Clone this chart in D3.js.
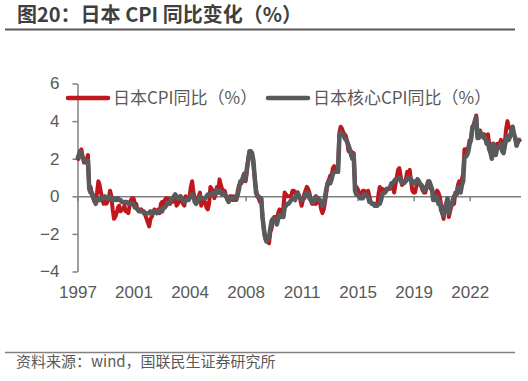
<!DOCTYPE html>
<html>
<head>
<meta charset="utf-8">
<script src="https://cdn.jsdelivr.net/npm/d3@7"></script>
<style>
  body { margin: 0; background: #fff; }
  svg { display: block; font-family: "Open Sans", "Noto Sans CJK SC", sans-serif; }
</style>
</head>
<body>
<div id="chart"></div>
<script>
// Japan CPI YoY, monthly from 1997-07 to 2025-11
const seriesNames = ['日本CPI同比（%）', '日本核心CPI同比（%）'];
const tickLabels = ['1997', '2001', '2004', '2008', '2011', '2015', '2019', '2022'];
const yTicks = [-4, -2, 0, 2, 4, 6];

const cpi = [
    1.9, 2.1, 2.4, 2.5, 2.1, 1.8,
    1.8, 1.9, 2.2, 0.4, 0.5, 0.1, -0.1, -0.3, -0.2, 0.2, 0.8, 0.6,
    0.2, -0.1, -0.4, -0.1, -0.4, -0.3, -0.1, 0.3, 0.0, -0.7, -1.2, -1.1,
    -0.9, -0.6, -0.5, -0.8, -0.7, -0.7, -0.5, -0.8, -0.8, -0.9, -0.5, -0.2,
    -0.1, -0.1, -0.4, -0.4, -0.7, -0.8, -0.8, -0.7, -0.8, -0.8, -1.0, -1.2,
    -1.4, -1.6, -1.2, -1.1, -0.9, -0.7, -0.8, -0.9, -0.7, -0.9, -0.4, -0.3,
    -0.4, -0.2, -0.1, -0.1, -0.2, -0.4, -0.2, -0.3, -0.2, 0.0, -0.5, -0.4,
    -0.3, 0.0, -0.1, -0.4, -0.5, 0.0, -0.1, -0.2, 0.0, 0.5, 0.8, 0.2,
    -0.1, -0.3, -0.2, 0.0, 0.2, -0.5, -0.3, -0.3, -0.3, -0.6, -0.7, -0.4,
    0.5, 0.4, 0.3, -0.1, 0.1, 0.5, 0.3, 0.9, 0.6, 0.4, 0.3, 0.3,
    0.0, -0.2, -0.1, 0.0, 0.0, -0.2, 0.0, -0.2, -0.2, 0.3, 0.6, 0.7,
    0.7, 1.0, 1.2, 0.8, 1.3, 2.0, 2.3, 2.1, 2.1, 1.7, 1.0, 0.4,
    0.0, -0.1, -0.3, -0.1, -1.1, -1.8, -2.2, -2.2, -2.2, -2.5, -1.9, -1.7,
    -1.3, -1.1, -1.1, -1.2, -0.9, -0.7, -0.9, -0.9, -0.6, 0.2, 0.1, 0.0,
    0.0, 0.0, 0.0, 0.3, 0.3, 0.2, 0.2, 0.2, 0.0, -0.2, -0.5, -0.2,
    0.1, 0.3, 0.5, 0.4, 0.2, -0.2, -0.4, -0.4, -0.3, -0.4, -0.2, -0.1,
    -0.3, -0.7, -0.9, -0.7, -0.3, 0.2, 0.7, 0.9, 1.1, 1.1, 1.5, 1.6,
    1.4, 1.5, 1.6, 3.4, 3.7, 3.6, 3.4, 3.3, 3.2, 2.9, 2.4, 2.4,
    2.4, 2.2, 2.3, 0.6, 0.5, 0.4, 0.2, 0.2, 0.0, 0.3, 0.3, 0.2,
    0.0, 0.3, 0.0, -0.3, -0.4, -0.4, -0.4, -0.5, -0.5, 0.1, 0.5, 0.3,
    0.4, 0.3, 0.2, 0.4, 0.4, 0.4, 0.4, 0.7, 0.7, 0.2, 0.6, 1.0,
    1.4, 1.5, 1.1, 0.6, 0.7, 0.7, 0.9, 1.3, 1.2, 1.4, 0.8, 0.3,
    0.2, 0.2, 0.5, 0.9, 0.7, 0.7, 0.5, 0.3, 0.2, 0.2, 0.5, 0.8,
    0.7, 0.4, 0.4, 0.1, 0.1, 0.1, 0.3, 0.2, 0.0, -0.4, -0.9, -1.2,
    -0.6, -0.4, -0.2, -1.1, -0.8, -0.5, -0.3, -0.4, 0.2, 0.1, 0.6, 0.8,
    0.5, 0.9, 1.2, 2.5, 2.5, 2.4, 2.6, 3.0, 3.0, 3.7, 3.8, 4.0,
    4.3, 3.3, 3.2, 3.5, 3.2, 3.3, 3.3, 3.2, 3.0, 3.3, 2.8, 2.6,
    2.2, 2.8, 2.7, 2.5, 2.8, 2.8, 2.8, 3.0, 2.5, 2.3, 2.9, 3.6,
    4.0, 3.7, 3.6, 3.6, 3.5, 3.3, 3.1, 2.7, 2.9, 3.0, 2.9
];

const coreCpi = [
    2.0, 2.2, 2.4, 2.3, 2.0, 2.0,
    1.9, 1.8, 1.9, 0.4, 0.2, 0.2, 0.0, -0.2, -0.4, -0.2, -0.1, -0.2,
    -0.1, -0.1, -0.1, 0.0, -0.1, -0.1, -0.1, 0.0, -0.1, -0.2, -0.1, -0.2,
    -0.2, -0.1, -0.2, -0.2, -0.3, -0.3, -0.3, -0.3, -0.3, -0.4, -0.4, -0.4,
    -0.4, -0.4, -0.6, -0.6, -0.7, -0.7, -0.8, -0.8, -0.8, -0.9, -0.9, -0.9,
    -0.9, -0.9, -0.8, -0.9, -0.9, -0.8, -0.8, -0.9, -0.8, -0.8, -0.7, -0.8,
    -0.6, -0.6, -0.5, -0.4, -0.3, -0.3, -0.1, -0.1, 0.0, 0.1, 0.0, -0.1,
    -0.1, 0.0, -0.1, -0.2, -0.3, -0.2, -0.2, -0.2, -0.1, 0.0, 0.1, 0.0,
    -0.3, -0.4, -0.3, -0.2, 0.0, -0.1, -0.1, -0.1, -0.1, 0.0, 0.1, 0.1,
    0.1, 0.1, 0.2, 0.1, 0.2, 0.3, 0.2, 0.3, 0.2, 0.1, 0.2, 0.1,
    0.0, -0.1, -0.3, -0.1, -0.1, -0.1, -0.1, -0.1, -0.1, 0.1, 0.4, 0.8,
    0.8, 1.0, 1.2, 0.9, 1.5, 1.9, 2.4, 2.4, 2.3, 1.9, 1.0, 0.2,
    0.0, 0.0, -0.1, -0.1, -1.1, -1.7, -2.2, -2.4, -2.3, -2.2, -1.7, -1.3,
    -1.2, -1.2, -1.2, -1.5, -1.2, -1.0, -1.1, -1.0, -1.1, -0.6, -0.5, -0.4,
    -0.4, -0.3, -0.2, -0.1, -0.1, -0.2, 0.1, 0.2, 0.0, -0.1, -0.2, -0.1,
    -0.1, 0.1, 0.2, 0.2, -0.1, -0.2, -0.3, -0.3, -0.1, 0.0, -0.1, -0.2,
    -0.2, -0.3, -0.5, -0.4, 0.0, 0.4, 0.7, 0.8, 0.7, 0.9, 1.2, 1.3,
    1.3, 1.3, 1.3, 3.2, 3.4, 3.3, 3.3, 3.1, 3.0, 2.9, 2.7, 2.5,
    2.2, 2.0, 2.2, 0.3, 0.1, 0.1, 0.0, -0.1, -0.1, -0.1, 0.1, 0.1,
    0.0, 0.0, -0.3, -0.3, -0.4, -0.4, -0.5, -0.5, -0.5, -0.4, -0.4, -0.2,
    0.1, 0.2, 0.2, 0.3, 0.4, 0.4, 0.5, 0.7, 0.7, 0.8, 0.9, 0.9,
    0.9, 1.0, 0.9, 0.7, 0.7, 0.8, 0.8, 0.9, 1.0, 1.0, 0.9, 0.7,
    0.8, 0.7, 0.8, 0.9, 0.8, 0.6, 0.6, 0.5, 0.3, 0.4, 0.5, 0.7,
    0.8, 0.6, 0.4, -0.2, -0.2, 0.0, 0.0, -0.4, -0.3, -0.7, -0.9, -1.0,
    -0.6, -0.4, -0.1, -0.9, -0.6, -0.5, -0.2, 0.0, 0.1, 0.1, 0.5, 0.5,
    0.2, 0.6, 0.8, 2.1, 2.1, 2.2, 2.4, 2.8, 3.0, 3.6, 3.7, 4.0,
    4.2, 3.1, 3.1, 3.4, 3.2, 3.3, 3.1, 3.1, 2.8, 2.9, 2.5, 2.3,
    2.0, 2.8, 2.6, 2.2, 2.5, 2.6, 2.7, 2.8, 2.4, 2.3, 2.7, 3.0,
    3.2, 3.0, 3.2, 3.5, 3.7, 3.3, 3.1, 2.7, 2.9, 3.0, 3.0
];

const width = 528, height = 381;
const plot = { left: 77.5, right: 520.5, top: 83.5, bottom: 271.5 };
const colors = ['#c0171c', '#595a5e'];
const textColor = '#595959';
const axisColor = '#7f7f7f';

const svg = d3.select('#chart').append('svg')
    .attr('width', width)
    .attr('height', height);

// title + rules
svg.append('text')
    .attr('x', 17).attr('y', 22)
    .attr('font-size', 20).attr('font-weight', 'bold')
    .attr('font-family', '"Noto Sans CJK SC", sans-serif')
    .attr('fill', '#3f3f3f')
    .text('图20：日本 CPI 同比变化（%）');
svg.append('line')
    .attr('x1', 5).attr('x2', 515).attr('y1', 29.5).attr('y2', 29.5)
    .attr('stroke', '#595959').attr('stroke-width', 2);
svg.append('line')
    .attr('x1', 5).attr('x2', 515).attr('y1', 352.5).attr('y2', 352.5)
    .attr('stroke', '#808080').attr('stroke-width', 1.5);
svg.append('text')
    .attr('x', 16).attr('y', 367)
    .attr('font-size', 15)
    .attr('font-family', '"Noto Sans CJK SC", sans-serif')
    .attr('fill', textColor)
    .text('资料来源：wind，国联民生证券研究所');

// scales
const n = cpi.length;
const x = d3.scaleLinear().domain([0, n - 1]).range([plot.left, plot.right]);
const y = d3.scaleLinear().domain([-4, 6]).range([plot.bottom, plot.top]);
const tickIdx = tickLabels.map((_, i) => i * 43);

// y axis
const yAxis = svg.append('g')
    .attr('transform', `translate(${plot.left},0)`)
    .call(d3.axisLeft(y).tickValues(yTicks).tickSize(5).tickSizeOuter(0).tickPadding(13));
yAxis.selectAll('text').attr('font-size', 17).attr('fill', textColor);

// x axis on zero line, ticks only
const xAxis = svg.append('g')
    .attr('transform', `translate(0,${y(0)})`)
    .call(d3.axisBottom(x).tickValues(tickIdx).tickSize(5).tickSizeOuter(0).tickFormat(''));

// x labels at bottom
const xLabels = svg.append('g')
    .attr('transform', `translate(0,${plot.bottom})`)
    .call(d3.axisBottom(x).tickValues(tickIdx).tickSize(0).tickPadding(14)
        .tickFormat((d, i) => tickLabels[i]));
xLabels.select('.domain').remove();
xLabels.selectAll('text').attr('font-size', 17).attr('fill', textColor);

[yAxis, xAxis].forEach(g => {
    g.selectAll('.domain, .tick line').attr('stroke', axisColor).attr('stroke-width', 1.5);
});

// lines
const line = d3.line().x((d, i) => x(i)).y(d => y(d)).curve(d3.curveLinear);
[cpi, coreCpi].forEach((s, k) => {
    svg.append('path')
        .datum(s)
        .attr('fill', 'none')
        .attr('stroke', colors[k])
        .attr('stroke-width', k === 0 ? 4 : 4.5)
        .attr('stroke-linejoin', 'round')
        .attr('d', line);
});

// legend
const legendX = [68, 268];
seriesNames.forEach((name, k) => {
    const g = svg.append('g').attr('transform', `translate(${legendX[k]},98)`);
    g.append('line')
        .attr('x1', 0).attr('x2', 40)
        .attr('stroke', colors[k]).attr('stroke-width', 4.5)
        .attr('stroke-linecap', 'round');
    g.append('text')
        .attr('x', 45).attr('dy', '0.35em')
        .attr('font-size', 17)
        .attr('font-family', '"Noto Sans CJK SC", sans-serif')
        .attr('fill', textColor)
        .text(name);
});
</script>
</body>
</html>
